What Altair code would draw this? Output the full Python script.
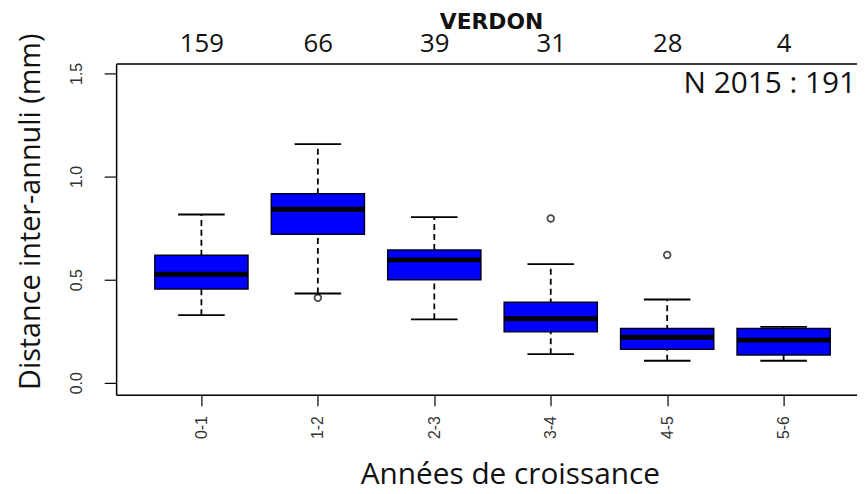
import altair as alt
import pandas as pd

# ---- data ----
categories = ["0-1", "1-2", "2-3", "3-4", "4-5", "5-6"]
counts = [159, 66, 39, 31, 28, 4]
whisker_low = [0.328, 0.433, 0.308, 0.139, 0.107, 0.107]
q1 = [0.455, 0.720, 0.500, 0.247, 0.163, 0.135]
median = [0.526, 0.841, 0.596, 0.311, 0.221, 0.207]
q3 = [0.619, 0.917, 0.644, 0.391, 0.263, 0.263]
whisker_high = [0.816, 1.157, 0.803, 0.575, 0.404, 0.271]
outlier_cat = ["1-2", "3-4", "4-5"]
outlier_val = [0.412, 0.797, 0.620]
y_ticks = [0.0, 0.5, 1.0, 1.5]
title_top = "VERDON"
x_title = "Années de croissance"
y_title = "Distance inter-annuli (mm)"
n_label = "N 2015 : 191"

W, H = 747, 334

box_df = pd.DataFrame({
    "cat": categories,
    "idx": list(range(1, len(categories) + 1)),
    "n": counts,
    "lo": whisker_low,
    "q1": q1,
    "med": median,
    "q3": q3,
    "hi": whisker_high,
})
out_df = pd.DataFrame({
    "cat": outlier_cat,
    "idx": [categories.index(c) + 1 for c in outlier_cat],
    "val": outlier_val,
})
note_df = pd.DataFrame({"label": [n_label]})

xscale = alt.Scale(domain=[0.2675, 6.63], nice=False, zero=False)
yscale = alt.Scale(domain=[-0.058, 1.548], nice=False, zero=False)

cat_js = "[" + ",".join("'%s'" % c for c in categories) + "]"
cnt_js = "[" + ",".join("'%d'" % c for c in counts) + "]"

x_bottom = alt.Axis(
    orient="bottom", values=list(range(1, len(categories) + 1)),
    labelExpr=cat_js + "[datum.value-1]",
    labelAngle=-90, labelAlign="right", labelBaseline="middle",
    labelFont="Liberation Sans", labelFontSize=16, labelColor="#333",
    labelPadding=10, tickSize=11, tickColor="#000", tickWidth=1.2,
    domainColor="#000", domainWidth=1.5, grid=False,
    title=x_title, titleFont="Open Sans", titleFontSize=30,
    titleFontWeight="normal", titleColor="#111",
    titleX=397, titleY=89, titleAlign="center", titleBaseline="alphabetic",
)
x_top = alt.Axis(
    orient="top", values=list(range(1, len(categories) + 1)),
    labelExpr=cnt_js + "[datum.value-1]",
    labelAngle=0, labelAlign="center", labelBaseline="alphabetic",
    labelFont="Open Sans", labelFontSize=26, labelColor="#111",
    labelPadding=12, ticks=False, domainColor="#000", domainWidth=1.5,
    grid=False,
    title=title_top, titleFont="DejaVu Sans", titleFontSize=22,
    titleFontWeight="bold", titleColor="#111",
    titleX=378, titleY=-35, titleAlign="center", titleBaseline="alphabetic",
)
y_left = alt.Axis(
    values=y_ticks, format=".1f",
    labelAngle=-90, labelAlign="center", labelBaseline="bottom",
    labelFont="Liberation Sans", labelFontSize=16, labelColor="#333",
    labelPadding=20, tickSize=12, tickColor="#000", tickWidth=1.2,
    domainColor="#000", domainWidth=1.5, grid=False,
    title=y_title, titleFont="Open Sans", titleFontSize=29,
    titleFontWeight="normal", titleColor="#111",
    titleAngle=-90, titleX=-86, titleY=149, titleAlign="center",
    titleBaseline="middle",
)

base = alt.Chart(box_df).transform_calculate(
    bl="datum.idx - 0.4", br="datum.idx + 0.4",
    cl="datum.idx - 0.2", cr="datum.idx + 0.2",
)

whisk = base.mark_rule(color="black", strokeWidth=1.8, strokeDash=[6, 4]).encode(
    x=alt.X("idx:Q", scale=xscale, axis=None),
    y=alt.Y("lo:Q", scale=yscale, axis=y_left),
    y2="hi:Q",
)
cap_lo = base.mark_rule(color="black", strokeWidth=1.8).encode(
    x=alt.X("cl:Q", scale=xscale, axis=None), x2="cr:Q",
    y=alt.Y("lo:Q", scale=yscale, axis=y_left),
)
cap_hi = base.mark_rule(color="black", strokeWidth=1.8).encode(
    x=alt.X("cl:Q", scale=xscale, axis=None), x2="cr:Q",
    y=alt.Y("hi:Q", scale=yscale, axis=y_left),
)
box = base.mark_rect(color="#0000FF", stroke="#000020", strokeWidth=1.5).encode(
    x=alt.X("bl:Q", scale=xscale, axis=x_bottom), x2="br:Q",
    y=alt.Y("q1:Q", scale=yscale, axis=y_left), y2="q3:Q",
)
med = base.mark_rule(color="black", strokeWidth=5).encode(
    x=alt.X("bl:Q", scale=xscale, axis=None), x2="br:Q",
    y=alt.Y("med:Q", scale=yscale, axis=y_left),
)
top_axis = base.mark_rule(opacity=0).encode(
    x=alt.X("idx:Q", scale=xscale, axis=x_top),
    y=alt.Y("med:Q", scale=yscale, axis=y_left),
)
outl = alt.Chart(out_df).mark_point(
    shape="circle", filled=False, color="black", size=45, strokeWidth=1.8
).encode(
    x=alt.X("idx:Q", scale=xscale, axis=None),
    y=alt.Y("val:Q", scale=yscale, axis=y_left),
)
note = alt.Chart(note_df).mark_text(
    align="right", baseline="alphabetic", font="Open Sans", fontSize=30,
    color="#111",
).encode(
    x=alt.value(W - 1), y=alt.value(30), text="label:N",
)

chart = alt.layer(
    whisk, cap_lo, cap_hi, box, med, outl, top_axis, note
).resolve_axis(x="independent").properties(
    width=W, height=H,
    autosize=alt.AutoSizeParams(type="none"),
    padding={"left": 109, "top": 54, "right": 0, "bottom": 90},
).configure_view(stroke=None).configure(background="white")

chart.save("out.html", embed_options={"renderer": "svg", "actions": False})
